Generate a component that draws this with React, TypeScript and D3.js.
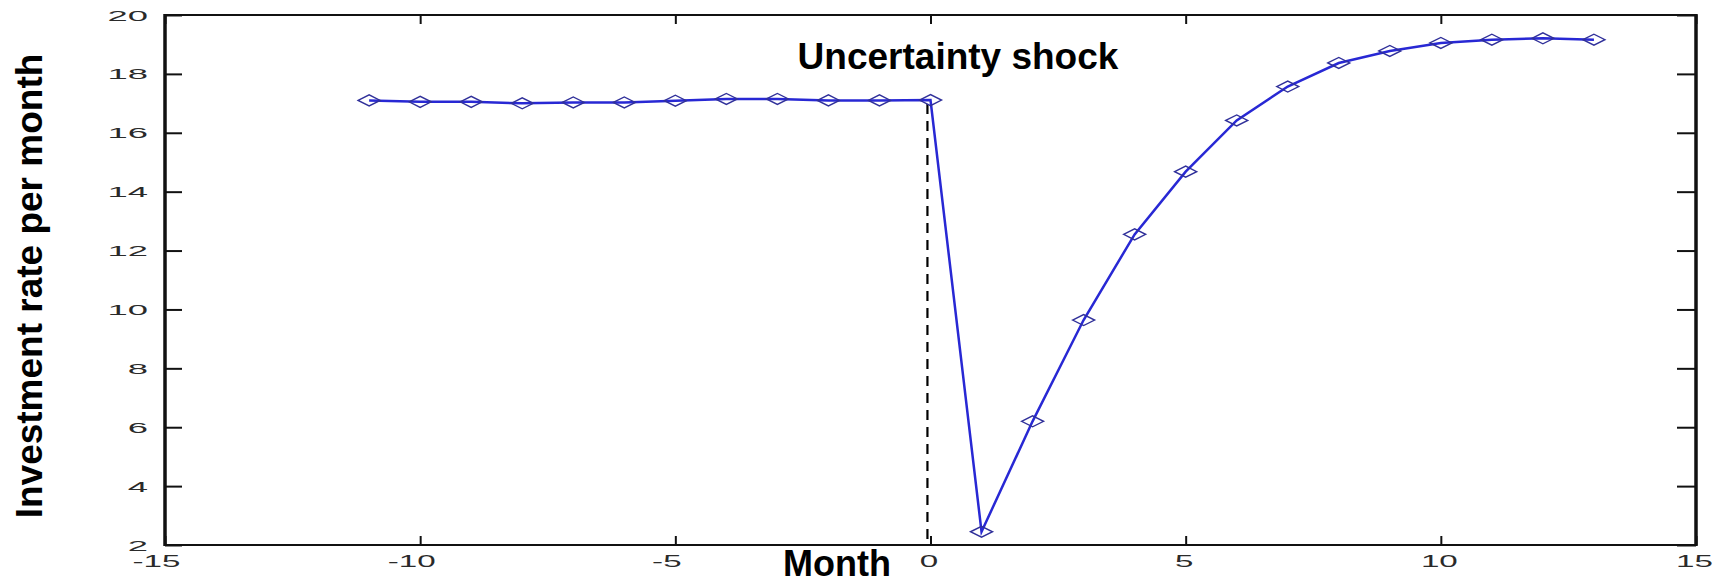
import React, { useEffect, useRef } from 'react';
import * as d3 from 'd3';

// months relative to the shock, and the investment rate for each
const months = [-11, -10, -9, -8, -7, -6, -5, -4, -3, -2, -1, 0, 1, 2, 3, 4, 5, 6, 7, 8, 9, 10, 11, 12, 13];
const investRate = [
  17.1, 17.05, 17.05, 17.0, 17.03, 17.03, 17.09, 17.15, 17.15, 17.1, 17.1, 17.11,
  2.45, 6.2, 9.64, 12.55, 14.68, 16.42, 17.57, 18.37, 18.78, 19.05, 19.16, 19.21, 19.16,
];
const xTicks = [-15, -10, -5, 0, 5, 10, 15];
const yTicks = [2, 4, 6, 8, 10, 12, 14, 16, 18, 20];
const shockMonth = -0.06;

const FONT = "'Liberation Sans', Arial, Helvetica, sans-serif";

const App = () => {
  const chartRef = useRef<SVGSVGElement | null>(null);

  useEffect(() => {
    const width = 1724;
    const height = 584;
    const margin = { top: 15, right: 28, bottom: 39, left: 165 };
    const svg = d3.select(chartRef.current);
    svg.selectAll('*').remove();

    const x = d3.scaleLinear().domain([-15, 15]).range([margin.left, width - margin.right]);
    const y = d3.scaleLinear().domain([2, 20]).range([height - margin.bottom, margin.top]);

    svg.append('rect').attr('width', width).attr('height', height).attr('fill', 'white');

    // inward ticks on all four sides, matlab style
    const plain = (d: any) => String(d);
    const bottom = svg.append('g')
      .attr('transform', `translate(0,${y(2)})`)
      .call(d3.axisBottom(x).tickValues(xTicks).tickSize(-9).tickSizeOuter(0).tickPadding(0).tickFormat(plain));
    const top = svg.append('g')
      .attr('transform', `translate(0,${y(20)})`)
      .call(d3.axisTop(x).tickValues(xTicks).tickSize(-9).tickSizeOuter(0).tickFormat(() => ''));
    const left = svg.append('g')
      .attr('transform', `translate(${x(-15)},0)`)
      .call(d3.axisLeft(y).tickValues(yTicks).tickSize(-17).tickSizeOuter(0).tickPadding(0).tickFormat(plain));
    const right = svg.append('g')
      .attr('transform', `translate(${x(15)},0)`)
      .call(d3.axisRight(y).tickValues(yTicks).tickSize(-19).tickSizeOuter(0).tickFormat(() => ''));

    [bottom, top, left, right].forEach(g => {
      g.select('.domain').remove();
      g.selectAll('.tick line').attr('stroke', '#111').attr('stroke-width', 2);
    });

    bottom.selectAll('.tick text')
      .attr('y', null).attr('dy', null)
      .attr('transform', (d: any) => `translate(${d < 0 ? -9 : -2},22) scale(1.95,1)`)
      .attr('font-family', FONT).attr('font-size', 17).attr('fill', '#2a2a2a')
      .attr('text-anchor', 'middle');
    left.selectAll('.tick text')
      .attr('x', null).attr('dy', null)
      .attr('transform', 'translate(-17,5) scale(2.35,1)')
      .attr('font-family', FONT).attr('font-size', 15.5).attr('fill', '#2a2a2a')
      .attr('text-anchor', 'end');

    // frame: vertical sides a bit heavier
    svg.append('line').attr('x1', x(-15)).attr('x2', x(15)).attr('y1', y(20)).attr('y2', y(20))
      .attr('stroke', '#111').attr('stroke-width', 2);
    svg.append('line').attr('x1', x(-15)).attr('x2', x(15)).attr('y1', y(2)).attr('y2', y(2))
      .attr('stroke', '#111').attr('stroke-width', 2);
    svg.append('line').attr('x1', x(-15)).attr('x2', x(-15)).attr('y1', y(20) - 1).attr('y2', y(2) + 1)
      .attr('stroke', '#111').attr('stroke-width', 3.5);
    svg.append('line').attr('x1', x(15)).attr('x2', x(15)).attr('y1', y(20) - 1).attr('y2', y(2) + 1)
      .attr('stroke', '#111').attr('stroke-width', 3.5);

    const data = months.map((m, i) => ({ m, v: investRate[i] }));

    // dashed marker for the shock
    svg.append('line')
      .attr('x1', x(shockMonth)).attr('x2', x(shockMonth))
      .attr('y1', y(investRate[months.indexOf(0)]) + 4).attr('y2', y(2))
      .attr('stroke', '#000').attr('stroke-width', 2.2).attr('stroke-dasharray', '10,7');

    const line = d3.line<{ m: number; v: number }>().x(d => x(d.m)).y(d => y(d.v));
    svg.append('path').datum(data)
      .attr('d', line)
      .attr('fill', 'none').attr('stroke', '#2828d4').attr('stroke-width', 2.5);

    svg.selectAll('path.marker')
      .data(data)
      .enter()
      .append('path')
      .attr('class', 'marker')
      .attr('d', 'M-11,0L0,-5.5L11,0L0,5.5Z')
      .attr('transform', d => `translate(${x(d.m)},${y(d.v)})`)
      .attr('fill', 'none').attr('stroke', '#30309a').attr('stroke-width', 1.4);

    svg.append('text')
      .attr('x', 958).attr('y', 69)
      .attr('text-anchor', 'middle')
      .attr('font-family', FONT).attr('font-weight', 'bold').attr('font-size', 37)
      .text('Uncertainty shock');

    svg.append('text')
      .attr('x', 837).attr('y', 576)
      .attr('text-anchor', 'middle')
      .attr('font-family', FONT).attr('font-weight', 'bold').attr('font-size', 36)
      .text('Month');

    svg.append('text')
      .attr('transform', 'translate(42,286) rotate(-90)')
      .attr('text-anchor', 'middle')
      .attr('font-family', FONT).attr('font-weight', 'bold').attr('font-size', 37)
      .text('Investment rate per month');
  }, []);

  return (
    <svg
      ref={chartRef}
      width={1724}
      height={584}
      style={{ position: 'absolute', left: 0, top: 0, display: 'block' }}
    />
  );
};

export default App;
